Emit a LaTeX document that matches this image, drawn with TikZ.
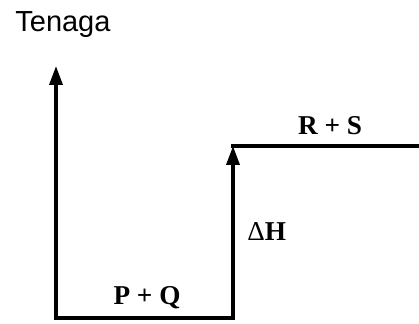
\documentclass[tikz,border=0pt]{standalone}
\usepackage{fontspec}
\setmainfont{Liberation Serif}
\newfontfamily\axisfont{Liberation Sans}
\usetikzlibrary{arrows.meta,positioning}

\begin{document}
\begin{tikzpicture}[
  level/.style={line width=2pt, line cap=rect},
  uparrow/.style={level, -{Triangle[length=0.38cm, width=0.26cm]}},
  species/.style={font=\fontsize{15.5}{18}\selectfont\bfseries, inner sep=0pt}
]
\useasboundingbox (0,0) rectangle (8.38,6.48);
% axis and energy levels
\coordinate (origin) at (1.12,0.12);
\coordinate (ytop) at (1.12,5.16);
\coordinate (stepB) at (4.66,0.12);
\coordinate (stepT) at (4.66,3.56);
\coordinate (rend) at (8.38,3.56);
\draw[uparrow] (origin) -- (ytop);
\draw[level] (origin) -- (stepB);
\draw[uparrow] (stepB) -- (stepT);
\draw[level] (stepT) -- (rend);
% labels
\node[anchor=base west, inner sep=0pt, font=\axisfont\fontsize{16.5}{19}\selectfont] (tenaga) at (0.30,5.84) {Tenaga};
\node[species, anchor=base] (pq) at (2.94,0.38) {P + Q};
\node[species, anchor=base] (rs) at (6.60,3.78) {R + S};
\node[species, anchor=base west] (dh) at (4.94,1.66) {{\mdseries Δ}H};
\end{tikzpicture}
\end{document}
